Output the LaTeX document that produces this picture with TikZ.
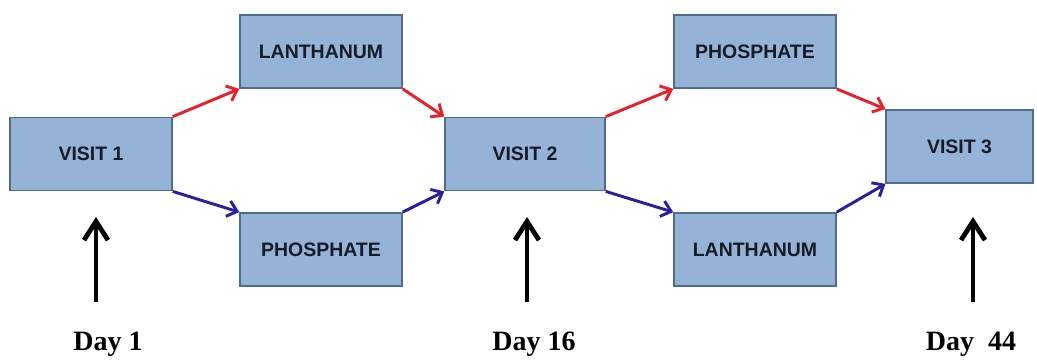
\documentclass[tikz,border=0pt]{standalone}
\usepackage{fontspec}
\setmainfont{Liberation Serif}
\setsansfont{Liberation Sans}
\usetikzlibrary{arrows.meta}
\definecolor{boxfill}{HTML}{95B3D7}
\definecolor{boxline}{HTML}{4F6B8F}
\definecolor{boxtext}{HTML}{161B26}
\definecolor{redarrow}{HTML}{E8202A}
\definecolor{bluearrow}{HTML}{2A1FA0}
\tikzset{
  stagebox/.style={draw=boxline, fill=boxfill, line width=1.1pt, inner sep=0pt,
    minimum width=121.5pt, minimum height=55pt,
    font=\sffamily\bfseries\fontsize{14.6pt}{16pt}\selectfont, text=boxtext},
  redlink/.style={draw=redarrow, line width=2.2pt,
    -{Straight Barb[length=7pt,width=12pt]}},
  bluelink/.style={draw=bluearrow, line width=2.2pt,
    -{Straight Barb[length=7pt,width=12pt]}},
  dayarrow/.style={draw=black, line width=3.6pt,
    -{Straight Barb[length=14pt,width=18pt]}},
  daylabel/.style={font=\bfseries\fontsize{21pt}{24pt}\selectfont, inner sep=0pt}
}
\begin{document}
\begin{tikzpicture}[x=0.75pt,y=-0.75pt]
\useasboundingbox (0,0) rectangle (1037,362);
\node[stagebox, minimum width=121.5pt] (v1) at (91,154) {VISIT 1};
\node[stagebox] (l1) at (321,51.5) {LANTHANUM};
\node[stagebox] (p1) at (321,249.5) {PHOSPHATE};
\node[stagebox, minimum width=120pt] (v2) at (525,154) {VISIT 2};
\node[stagebox] (p2) at (755,51.5) {PHOSPHATE};
\node[stagebox] (l2) at (755,249.5) {LANTHANUM};
\node[stagebox, minimum width=110pt] (v3) at (959.5,146.5) {VISIT 3};

\draw[redlink] (v1.north east) -- (l1.south west);
\draw[bluelink] (v1.south east) -- (p1.north west);
\draw[redlink] (l1.south east) -- (v2.north west);
\draw[bluelink] (p1.north east) -- (v2.south west);
\draw[redlink] (v2.north east) -- (p2.south west);
\draw[bluelink] (v2.south east) -- (l2.north west);
\draw[redlink] (p2.south east) -- (v3.north west);
\draw[bluelink] (l2.north east) -- (v3.south west);

\coordinate (a1tail) at (96,302);
\coordinate (a1tip) at (96,217);
\coordinate (a2tail) at (527,302);
\coordinate (a2tip) at (527,217);
\coordinate (a3tail) at (973,302);
\coordinate (a3tip) at (973,217);
\draw[dayarrow] (a1tail) -- (a1tip);
\draw[dayarrow] (a2tail) -- (a2tip);
\draw[dayarrow] (a3tail) -- (a3tip);

\node[daylabel] (d1) at (108,344) {Day 1};
\node[daylabel] (d2) at (534,344) {Day 16};
\node[daylabel] (d3) at (971,344) {Day\hspace{0.5em}44};
\end{tikzpicture}
\end{document}
